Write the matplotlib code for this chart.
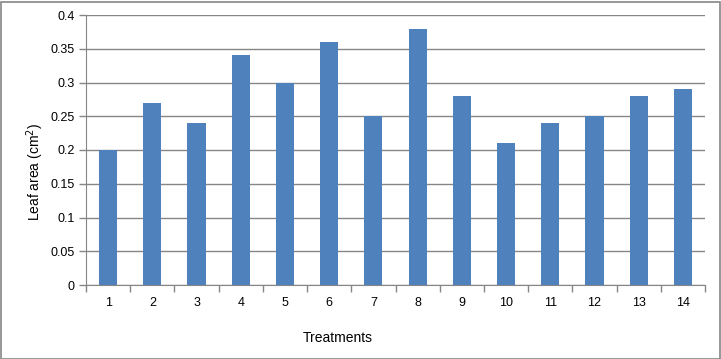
import matplotlib
matplotlib.use('Agg')
import matplotlib.pyplot as plt
from matplotlib.patches import Rectangle
import numpy as np

# data
treatments = [str(i) for i in range(1, 15)]
leaf_area = [0.20, 0.27, 0.24, 0.34, 0.30, 0.36, 0.25, 0.38, 0.28, 0.21, 0.24, 0.25, 0.28, 0.29]
yticks = [0, 0.05, 0.1, 0.15, 0.2, 0.25, 0.3, 0.35, 0.4]
ytick_labels = ['0', '0.05', '0.1', '0.15', '0.2', '0.25', '0.3', '0.35', '0.4']

plt.rcParams['font.family'] = ['Liberation Sans', 'DejaVu Sans']
grid_col = '#868686'

fig = plt.figure(figsize=(7.21, 3.59), dpi=100)
ax = fig.add_axes([86/721, 74/359, 619/721, 270/359])

x = np.arange(len(treatments))
ax.bar(x, leaf_area, width=0.41, color='#4F81BD', zorder=3)

ax.set_xlim(-0.5, len(treatments) - 0.5)
ax.set_ylim(0, 0.4)
ax.set_yticks(yticks)
ax.set_yticklabels(ytick_labels, fontsize=9)
ax.yaxis.grid(True, color=grid_col, linewidth=1, zorder=0)

# category labels, tick marks between categories
ax.set_xticks(x)
ax.set_xticklabels(treatments, fontsize=9)
ax.tick_params(axis='x', length=0, pad=9)
ax.set_xticks(np.arange(-0.5, len(treatments)), minor=True)
ax.tick_params(axis='x', which='minor', length=5, color=grid_col, width=1)
ax.tick_params(axis='y', length=5, color=grid_col, width=1, pad=3)

for s in ['top', 'right']:
    ax.spines[s].set_visible(False)
for s in ['left', 'bottom']:
    ax.spines[s].set_color(grid_col)

ax.set_xlabel('Treatments', fontsize=10)
ax.xaxis.set_label_coords(0.407, -0.17)
ax.set_ylabel('Leaf area (cm$^2$)', fontsize=10)
ax.yaxis.set_label_coords(-0.065, 0.42)

# outer chart border
fig.patches.append(Rectangle((0.5/721, 0.5/359), 719/721, 357/359, transform=fig.transFigure,
                             fill=False, edgecolor=grid_col, linewidth=1.2))

fig.savefig('out.png', dpi=100)
